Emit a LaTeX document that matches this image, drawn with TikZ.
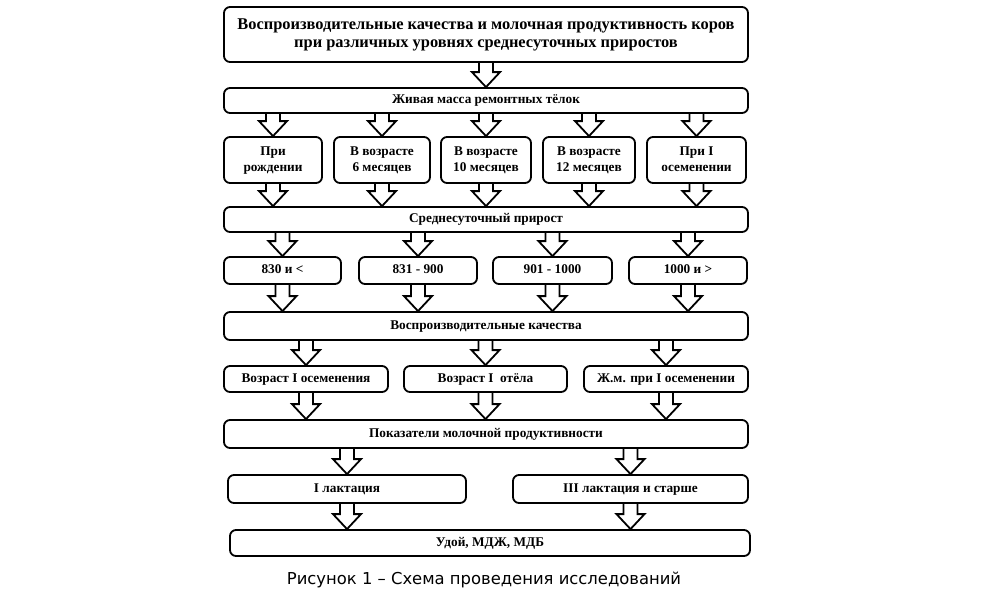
\documentclass[tikz,border=0pt]{standalone}
\usepackage{fontspec}
\setmainfont{Liberation Serif}
\newfontfamily\capfont{DejaVu Sans}
\usetikzlibrary{calc}
\begin{document}
\begin{tikzpicture}[x=1pt,y=-1pt,
  box/.style={draw, line width=1.8pt, rounded corners=6pt, fill=white, align=center,
    inner sep=0pt, text height=9.3pt, text depth=3pt, font=\bfseries\fontsize{13.3}{16}\selectfont},
  twoline/.style={text height=25.3pt, text depth=3pt},
  barrow/.style={draw, line width=1.8pt, line join=miter,
    to path={let \p1=(\tikztostart), \p2=(\tikztotarget) in
      (\x1-7pt,\y1) -- (\x1-7pt,\y2+15pt) -- (\x1-14pt,\y2+15pt) -- (\x1,\y2)
      -- (\x1+14pt,\y2+15pt) -- (\x1+7pt,\y2+15pt) -- (\x1+7pt,\y1)}}]
\useasboundingbox (0,0) rectangle (1000,600);
\fill[white] (0,0) rectangle (1000,600);

\node[box, minimum width=524pt, minimum height=55pt, text height=30pt, text depth=4pt,
  font=\bfseries\fontsize{16.4}{18.5}\selectfont] (t) at (486,34.5)
  {Воспроизводительные качества и молочная продуктивность коров\\при различных уровнях среднесуточных приростов};
\node[box, minimum width=524pt, minimum height=25pt] (m) at (486,100.5) {Живая масса ремонтных тёлок};

\node[box, twoline, minimum width=98pt, minimum height=46pt] (r1) at (273,160) {При\\рождении};
\node[box, twoline, minimum width=96pt, minimum height=46pt] (r2) at (382,160) {В возрасте\\6 месяцев};
\node[box, twoline, minimum width=90pt, minimum height=46pt] (r3) at (486,160) {В возрасте\\10 месяцев};
\node[box, twoline, minimum width=92pt, minimum height=46pt] (r4) at (589,160) {В возрасте\\12 месяцев};
\node[box, twoline, minimum width=99pt, minimum height=46pt] (r5) at (696.5,160) {При I\\осеменении};

\node[box, minimum width=524pt, minimum height=25pt] (s) at (486,219.5) {Среднесуточный прирост};

\node[box, minimum width=117pt, minimum height=27pt] (g1) at (282.5,270.5) {830 и <};
\node[box, minimum width=118pt, minimum height=27pt] (g2) at (418,270.5) {831 - 900};
\node[box, minimum width=119pt, minimum height=27pt] (g3) at (552.5,270.5) {901 - 1000};
\node[box, minimum width=118pt, minimum height=27pt] (g4) at (688,270.5) {1000 и >};

\node[box, minimum width=524pt, minimum height=28pt] (v) at (486,326) {Воспроизводительные качества};

\node[box, minimum width=164pt, minimum height=26pt] (q1) at (306,379) {Возраст I осеменения};
\node[box, minimum width=163pt, minimum height=26pt] (q2) at (485.5,379) {Возраст I\ \ отёла};
\node[box, minimum width=164pt, minimum height=26pt] (q3) at (666,379) {Ж.м. при I осеменении};

\node[box, minimum width=524pt, minimum height=28pt] (p) at (486,434) {Показатели молочной продуктивности};

\node[box, minimum width=238pt, minimum height=28pt] (l1) at (347,489) {I лактация};
\node[box, minimum width=235pt, minimum height=28pt] (l2) at (630.5,489) {III лактация и старше};

\node[box, minimum width=520pt, minimum height=26pt] (u) at (490,543) {Удой, МДЖ, МДБ};

\node[font=\capfont\fontsize{16.4}{19}\selectfont, inner sep=0pt] (cap) at (484,580) {Рисунок 1 – Схема проведения исследований};

% arrows
\draw[barrow] (t.south) to (t.south |- m.north);
\foreach \r in {r1,r2,r3,r4,r5} {
  \draw[barrow] (m.south -| \r.north) to (\r.north);
  \draw[barrow] (\r.south) to (\r.south |- s.north);
}
\foreach \g in {g1,g2,g3,g4} {
  \draw[barrow] (s.south -| \g.north) to (\g.north);
  \draw[barrow] (\g.south) to (\g.south |- v.north);
}
\foreach \q in {q1,q2,q3} {
  \draw[barrow] (v.south -| \q.north) to (\q.north);
  \draw[barrow] (\q.south) to (\q.south |- p.north);
}
\foreach \l in {l1,l2} {
  \draw[barrow] (p.south -| \l.north) to (\l.north);
  \draw[barrow] (\l.south) to (\l.south |- u.north);
}
\end{tikzpicture}
\end{document}
